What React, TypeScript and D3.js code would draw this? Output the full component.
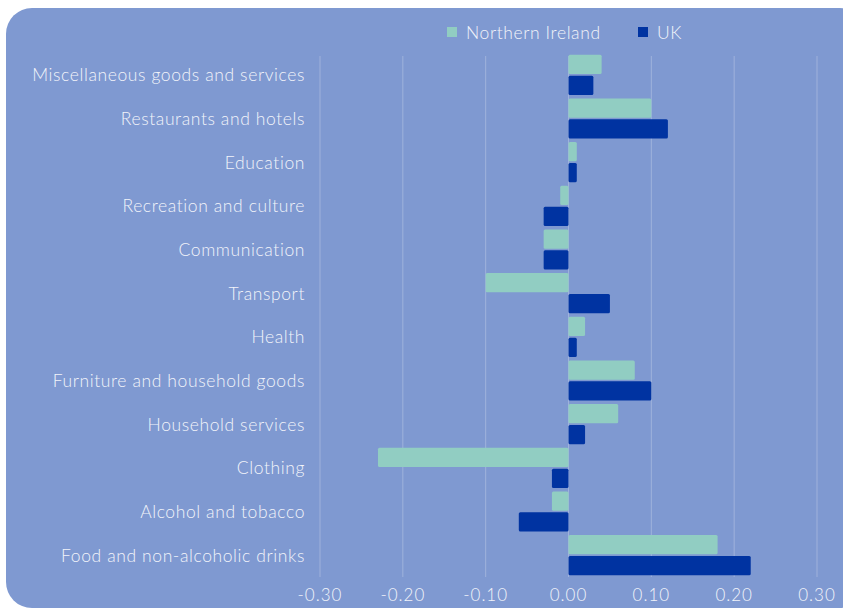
import * as d3 from "d3";

const WIDTH = 843;
const HEIGHT = 609;

const categories = [
  "Miscellaneous goods and services",
  "Restaurants and hotels",
  "Education",
  "Recreation and culture",
  "Communication",
  "Transport",
  "Health",
  "Furniture and household goods",
  "Household services",
  "Clothing",
  "Alcohol and tobacco",
  "Food and non-alcoholic drinks",
];
const northernIreland = [0.04, 0.1, 0.01, -0.01, -0.03, -0.1, 0.02, 0.08, 0.06, -0.23, -0.02, 0.18];
const uk = [0.03, 0.12, 0.01, -0.03, -0.03, 0.05, 0.01, 0.1, 0.02, -0.02, -0.06, 0.22];
const ticks = [-0.3, -0.2, -0.1, 0, 0.1, 0.2, 0.3];

const NI_COLOR = "#91cdc2";
const UK_COLOR = "#0033a1";
const BG = "#7f99d1";
const TEXT = "#f2f4fa";
const FONT = "Lato, 'Open Sans', sans-serif";

export default function App() {
  const x = d3.scaleLinear().domain([-0.3, 0.3]).range([320, 817]);
  const y = d3.scaleBand().domain(categories).range([53, 577]).paddingInner(0.08).paddingOuter(0.04);
  const sub = d3.scaleBand().domain(["ni", "uk"]).range([0, y.bandwidth()]).paddingInner(0.08);

  const bar = (v: number, cat: string, key: string, color: string) => {
    const x0 = x(Math.min(0, v));
    const x1 = x(Math.max(0, v));
    return (
      <rect
        key={cat + key}
        x={x0}
        y={(y(cat) ?? 0) + (sub(key) ?? 0)}
        width={x1 - x0}
        height={sub.bandwidth()}
        rx={1.5}
        fill={color}
      />
    );
  };

  return (
    <div>
      <style>{`body{margin:0}`}</style>
      <svg width={WIDTH} height={HEIGHT} style={{ display: "block" }}>
        <rect x={6} y={8} width={860} height={600} rx={26} fill={BG} />
        {ticks.map((t) => (
          <line key={t} x1={x(t)} x2={x(t)} y1={56} y2={577} stroke="#ffffff" strokeOpacity={0.25} strokeWidth={1} />
        ))}
        {categories.map((c, i) => (
          <g key={c}>
            {bar(northernIreland[i], c, "ni", NI_COLOR)}
            {bar(uk[i], c, "uk", UK_COLOR)}
          </g>
        ))}
        {categories.map((c) => (
          <text
            key={c}
            x={305}
            y={(y(c) ?? 0) + y.bandwidth() / 2}
            textAnchor="end"
            dominantBaseline="central"
            fontFamily={FONT}
            fontWeight={300}
            fontSize={17.5}
            letterSpacing={0.6}
            fill={TEXT}
          >
            {c}
          </text>
        ))}
        {ticks.map((t) => (
          <text
            key={t}
            x={x(t)}
            y={594}
            textAnchor="middle"
            dominantBaseline="central"
            fontFamily={FONT}
            fontWeight={300}
            fontSize={17}
            letterSpacing={1}
            fill={TEXT}
          >
            {d3.format(".2f")(t).replace("−", "-")}
          </text>
        ))}
        <g fontFamily={FONT} fontWeight={300} fontSize={17.5} letterSpacing={0.6} fill={TEXT}>
          <rect x={447} y={27} width={10} height={10} fill={NI_COLOR} />
          <text x={466} y={32} dominantBaseline="central">Northern Ireland</text>
          <rect x={638} y={27} width={10} height={10} fill={UK_COLOR} />
          <text x={657} y={32} dominantBaseline="central">UK</text>
        </g>
      </svg>
    </div>
  );
}
